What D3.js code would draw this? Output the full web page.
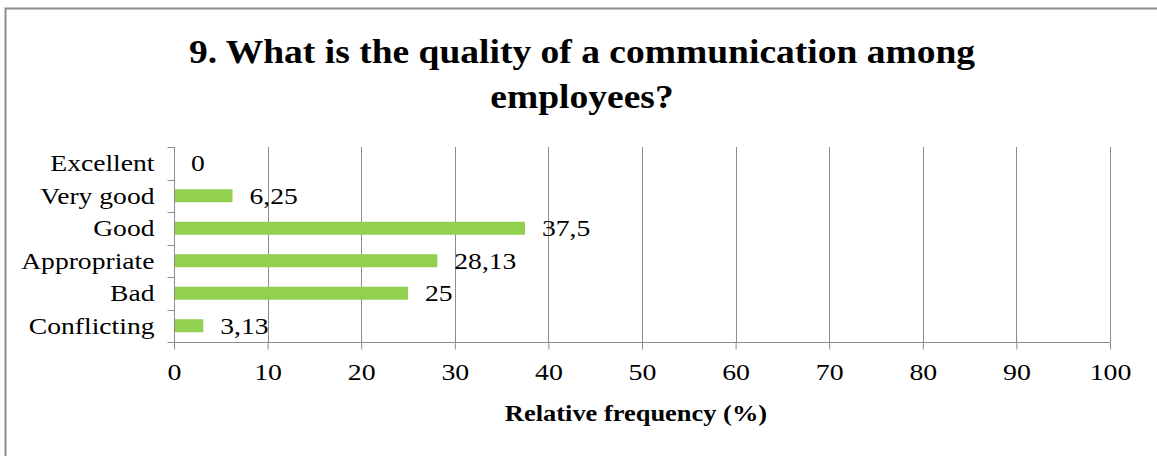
<!DOCTYPE html>
<html>
<head>
<meta charset="utf-8">
<script src="https://cdn.jsdelivr.net/npm/d3@7/dist/d3.min.js"></script>
<style>
  html, body { margin: 0; padding: 0; background: #fff; }
  svg { display: block; }
  text { font-family: "Liberation Serif", "Times New Roman", serif; fill: #000; }
</style>
</head>
<body>
<svg id="chart" width="1157" height="456"></svg>
<script>
// Survey answers, top to bottom
const categories = ["Excellent", "Very good", "Good", "Appropriate", "Bad", "Conflicting"];
const values = [0, 6.25, 37.5, 28.13, 25, 3.13];
const valueLabels = ["0", "6,25", "37,5", "28,13", "25", "3,13"];
const xTicks = [0, 10, 20, 30, 40, 50, 60, 70, 80, 90, 100];
const titleLines = ["9. What is the quality of a communication among", "employees?"];
const xAxisTitle = "Relative frequency (%)";

const svg = d3.select("#chart");
const W = 1157, H = 456;
const plot = { left: 174, right: 1110, top: 147, bottom: 342 };

// Text in this chart is set slightly wide; stretch horizontally about its anchor point
function placeWide(sel, fx, fy, sx) {
  sel.attr("x", 0).attr("y", 0)
     .attr("transform", (d, i) => `translate(${fx(d, i)},${fy(d, i)}) scale(${sx},1)`);
}

// Outer chart frame
svg.append("rect")
  .attr("x", 5.5).attr("y", 8.5)
  .attr("width", W + 10).attr("height", H + 10)
  .attr("fill", "#fff").attr("stroke", "#8c8c8c").attr("stroke-width", 2);

const x = d3.scaleLinear().domain([0, 100]).range([plot.left, plot.right]);
const y = d3.scaleBand().domain(categories).range([plot.top, plot.bottom]).paddingInner(0.6).paddingOuter(0.3);
const yOuter = d3.scaleBand().domain(categories).range([plot.top, plot.bottom]);

// Title
svg.append("g").selectAll("text").data(titleLines).join("text")
  .attr("text-anchor", "middle")
  .attr("font-weight", "bold")
  .attr("font-size", 34)
  .text(d => d)
  .call(placeWide, () => 582, (d, i) => 63 + i * 45, 1.104);

// Vertical gridlines
svg.append("g").selectAll("line").data(xTicks.filter(t => t > 0)).join("line")
  .attr("x1", d => Math.round(x(d)) + 0.5).attr("x2", d => Math.round(x(d)) + 0.5)
  .attr("y1", plot.top).attr("y2", plot.bottom)
  .attr("stroke", "#8c8c8c").attr("stroke-width", 1);

// Bars
svg.append("g").selectAll("rect").data(values).join("rect")
  .attr("x", x(0))
  .attr("y", (d, i) => y(categories[i]))
  .attr("width", d => x(d) - x(0))
  .attr("height", y.bandwidth())
  .attr("fill", "#92d050");

// Value labels
svg.append("g").selectAll("text").data(values).join("text")
  .attr("font-size", 24)
  .text((d, i) => valueLabels[i])
  .call(placeWide, d => x(d) + 17, (d, i) => y(categories[i]) + y.bandwidth() / 2 + 8, 1.15);

// X axis
const xAxis = svg.append("g")
  .attr("transform", `translate(0,${plot.bottom + 0.5})`)
  .call(d3.axisBottom(x).tickValues(xTicks).tickSize(7).tickPadding(13).tickFormat(d3.format("d")));
xAxis.select(".domain").attr("stroke", "#8c8c8c").attr("d", `M${plot.left},0H${plot.right}`);
xAxis.selectAll(".tick line").attr("stroke", "#8c8c8c");
xAxis.selectAll(".tick text")
  .attr("font-size", 24).attr("font-family", "Liberation Serif").attr("fill", "#000")
  .attr("transform", "scale(1.16,1)");

// Y axis: ticks on category boundaries
const yAxisG = svg.append("g").attr("transform", `translate(${plot.left + 0.5},0)`);
yAxisG.append("line")
  .attr("x1", 0).attr("x2", 0).attr("y1", plot.top).attr("y2", plot.bottom + 7)
  .attr("stroke", "#8c8c8c");
const boundaries = categories.map(c => yOuter(c)).concat([plot.bottom]);
yAxisG.selectAll("line.tk").data(boundaries).join("line")
  .attr("class", "tk")
  .attr("x1", -7).attr("x2", 0)
  .attr("y1", d => Math.round(d) + 0.5).attr("y2", d => Math.round(d) + 0.5)
  .attr("stroke", "#8c8c8c");
yAxisG.selectAll("text").data(categories).join("text")
  .attr("text-anchor", "end")
  .attr("font-size", 24)
  .text(d => d)
  .call(placeWide, () => -20, d => yOuter(d) + yOuter.bandwidth() / 2 + 8, 1.15);

// Axis title
svg.append("text")
  .attr("text-anchor", "middle")
  .attr("font-weight", "bold")
  .attr("font-size", 23)
  .text(xAxisTitle)
  .call(placeWide, () => 636, () => 421, 1.15);
</script>
</body>
</html>
